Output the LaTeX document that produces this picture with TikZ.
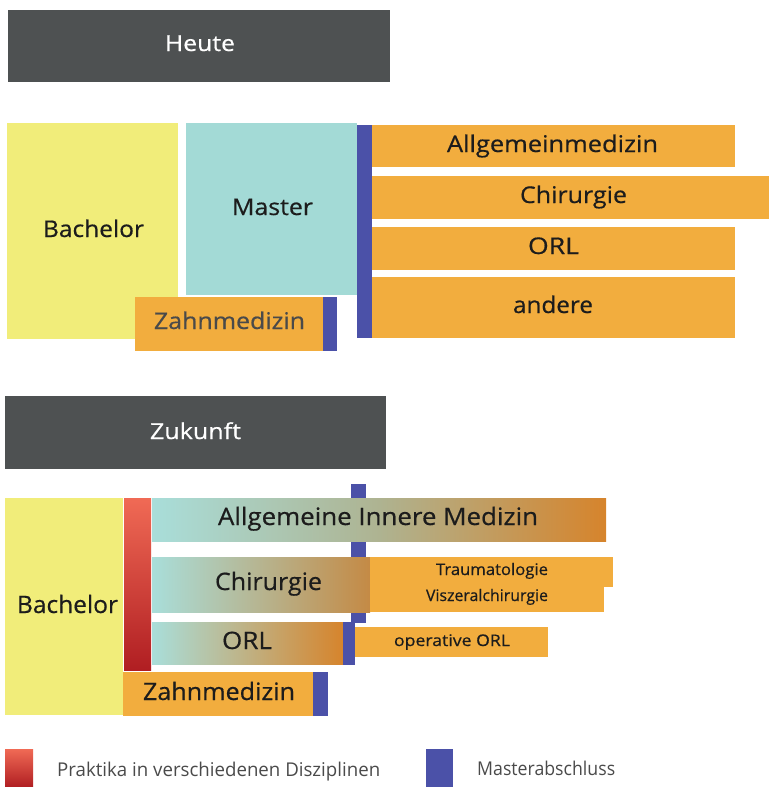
\documentclass[tikz,border=0pt]{standalone}
\usepackage{fontspec}
\setmainfont{Open Sans}
\newfontfamily\medfont{Open Sans}[FakeBold=0.5]
\newfontfamily\legfont{Open Sans}
\definecolor{cyel}{HTML}{F1ED7A}
\definecolor{cteal}{HTML}{A3DAD6}
\definecolor{cblue}{HTML}{4B51A8}
\definecolor{corange}{HTML}{F2AD3E}
\definecolor{chead}{HTML}{4E5152}
\definecolor{credt}{HTML}{F06A55}
\definecolor{credb}{HTML}{B01E22}
\definecolor{cgtl}{HTML}{A9DEDA}
\definecolor{cgtm}{HTML}{AEB391}
\definecolor{cgtr}{HTML}{D6842C}
\definecolor{cgtb}{HTML}{C48A45}
\definecolor{ctxt}{HTML}{1C1C1C}
\definecolor{cleg}{HTML}{4A4A4A}
\newcommand\fitw[2]{\resizebox{#1}{\height}{#2}}
\tikzset{
  rbox/.style={anchor=north west, inner sep=0pt, outer sep=0pt},
  ybox/.style={rbox, fill=cyel},
  tbox/.style={rbox, fill=cteal},
  obox/.style={rbox, fill=corange},
  bbox/.style={rbox, fill=cblue},
  hbox/.style={rbox, fill=chead},
  gbox/.style={rbox, left color=cgtl, right color=cgtr},
  redbox/.style={rbox, top color=credt, bottom color=credb},
  lbl/.style={anchor=base, inner sep=0pt, text=ctxt, font=\medfont\fontsize{23}{25}\selectfont},
  lblb/.style={lbl, font=\medfont\fontsize{24}{26}\selectfont},
  hlbl/.style={lbl, text=white, font=\medfont\fontsize{22}{24}\selectfont},
  smalltxt/.style={lbl, font=\medfont\fontsize{16}{18}\selectfont},
  legtxt/.style={anchor=base west, inner sep=0pt, text=cleg, font=\legfont\fontsize{19}{21}\selectfont},
}
\begin{document}
\begin{tikzpicture}[x=1pt,y=-1pt]
\useasboundingbox (0,0) rectangle (769,787);
% ---------- Heute ----------
\node[hbox, minimum width=382pt, minimum height=72pt] (heute) at (8,10) {};
\node[hlbl] (heutet) at (200,51) {\fitw{70pt}{Heute}};
\node[ybox, minimum width=171pt, minimum height=216pt] (bach1) at (7,123) {};
\node[lbl] (bach1t) at (93.5,237) {\fitw{101pt}{Bachelor}};
\node[tbox, minimum width=171pt, minimum height=172pt] (master) at (186,123) {};
\node[lbl] (mastert) at (272.5,215) {\fitw{81pt}{Master}};
\node[bbox, minimum width=15pt, minimum height=213pt] (mab1) at (357,125) {};
\node[obox, minimum width=188pt, minimum height=54pt] (zahn1) at (135,297) {};
\node[lbl, text=cleg] (zahn1t) at (229.5,329) {\fitw{151pt}{Zahnmedizin}};
\node[bbox, minimum width=14pt, minimum height=54pt] (zahn1b) at (323,297) {};
\node[obox, minimum width=363pt, minimum height=42pt] (allg) at (372,125) {};
\node[lbl] (allgt) at (552.5,152) {\fitw{211pt}{Allgemeinmedizin}};
\node[obox, minimum width=397pt, minimum height=43pt] (chir1) at (372,176) {};
\node[lbl] (chir1t) at (573.5,203) {\fitw{107pt}{Chirurgie}};
\node[obox, minimum width=363pt, minimum height=43pt] (orl1) at (372,227) {};
\node[lbl] (orl1t) at (553.5,254) {\fitw{51pt}{ORL}};
\node[obox, minimum width=363pt, minimum height=61pt] (andere) at (372,277) {};
\node[lbl] (anderet) at (553,313) {\fitw{80pt}{andere}};
% ---------- Zukunft ----------
\node[hbox, minimum width=381pt, minimum height=73pt] (zukunft) at (5,396) {};
\node[hlbl] (zukunftt) at (195.5,439) {\fitw{91pt}{Zukunft}};
\node[ybox, minimum width=118pt, minimum height=217pt] (bach2) at (5,498) {};
\node[lblb] (bach2t) at (67.5,613) {\fitw{101pt}{Bachelor}};
\node[redbox, minimum width=27pt, minimum height=172pt] (prak) at (124,498) {};
\node[bbox, minimum width=15pt, minimum height=139pt] (mab2) at (351,484) {};
\node[gbox, middle color=cgtm, minimum width=454pt, minimum height=43pt] (aim) at (152,498) {};
\node[lblb] (aimt) at (378,525) {\fitw{320pt}{Allgemeine Innere Medizin}};
\node[gbox, right color=cgtb, minimum width=218pt, minimum height=55pt] (chir2) at (152,557) {};
\node[lblb] (chir2t) at (268.5,590) {\fitw{107pt}{Chirurgie}};
\node[obox, minimum width=243pt, minimum height=30pt] (trauma) at (370,557) {};
\node[obox, minimum width=234pt, minimum height=25pt] (visz) at (370,587) {};
\node[smalltxt] (traumat) at (492,575) {\fitw{112pt}{Traumatologie}};
\node[smalltxt] (viszt) at (487,601) {\fitw{122pt}{Viszeralchirurgie}};
\node[gbox, minimum width=191pt, minimum height=42pt] (orl2) at (152,622) {};
\node[lblb] (orl2t) at (247,649) {\fitw{50pt}{ORL}};
\node[bbox, minimum width=12pt, minimum height=43pt] (orl2b) at (343,622) {};
\node[obox, minimum width=193pt, minimum height=30pt] (oporl) at (355,627) {};
\node[smalltxt] (oporlt) at (452,646) {\fitw{116pt}{operative ORL}};
\node[obox, minimum width=190pt, minimum height=44pt] (zahn2) at (123,672) {};
\node[lblb] (zahn2t) at (219,700) {\fitw{152pt}{Zahnmedizin}};
\node[bbox, minimum width=15pt, minimum height=44pt] (zahn2b) at (313,672) {};
% ---------- Legende ----------
\node[redbox, minimum width=28pt, minimum height=38pt] (legred) at (5,749) {};
\node[legtxt] (legredt) at (57,776) {\fitw{323pt}{Praktika in verschiedenen Disziplinen}};
\node[bbox, minimum width=27pt, minimum height=38pt] (legblue) at (426,749) {};
\node[legtxt] (legbluet) at (477,775) {\fitw{138pt}{Masterabschluss}};
\end{tikzpicture}
\end{document}
